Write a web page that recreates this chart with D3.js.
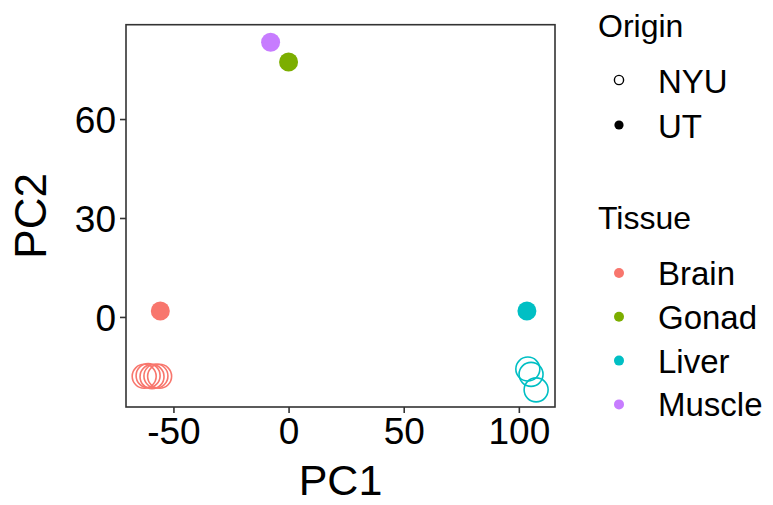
<!DOCTYPE html>
<html>
<head>
<meta charset="utf-8">
<script src="https://cdn.jsdelivr.net/npm/d3@7"></script>
<style>
    body { margin: 0; background: #ffffff; }
    text { font-family: 'Liberation Sans', Arial, sans-serif; fill: #000000; }
</style>
</head>
<body>
<div id="chart"></div>
<script>
'use strict';

// PCA scores
var tissues = ['Brain', 'Gonad', 'Liver', 'Muscle'];
var tissueColors = ['#F8766D', '#7CAE00', '#00BFC4', '#C77CFF'];
var origins = ['NYU', 'UT'];

var sampleTissue = ['Brain', 'Brain', 'Brain', 'Brain', 'Brain', 'Brain',
    'Gonad', 'Liver', 'Liver', 'Liver', 'Liver', 'Muscle'];
var sampleOrigin = ['UT', 'NYU', 'NYU', 'NYU', 'NYU', 'NYU',
    'UT', 'UT', 'NYU', 'NYU', 'NYU', 'UT'];
var pc1 = [-55.7, -62.7, -61.0, -59.3, -57.6, -56.0,
    0.0, 103.5, 103.9, 105.3, 107.5, -7.8];
var pc2 = [1.8, -18.0, -17.8, -18.1, -17.9, -18.0,
    77.3, 1.8, -15.8, -17.4, -22.1, 83.3];

var xTicks = [-50, 0, 50, 100];
var yTicks = [0, 30, 60];

var width = 773,
    height = 505;

var panel = { left: 126, right: 555, top: 24.7, bottom: 407 };

var svg = d3.select('#chart').append('svg')
    .attr('width', width)
    .attr('height', height);

var x = d3.scaleLinear()
    .domain([-70.6, 115.7])
    .range([panel.left, panel.right]);

var y = d3.scaleLinear()
    .domain([-27.3, 88.6])
    .range([panel.bottom, panel.top]);

var color = d3.scaleOrdinal()
    .domain(tissues)
    .range(tissueColors);

var samples = pc1.map(function(d, i) {
    return { pc1: d, pc2: pc2[i], tissue: sampleTissue[i], origin: sampleOrigin[i] };
});

// plain hyphen minus like the R output
var tickFormat = function(d) { return String(d); };

// axes
var xAxis = svg.append('g')
    .attr('transform', 'translate(0,' + panel.bottom + ')')
    .call(d3.axisBottom(x).tickValues(xTicks).tickSize(6).tickPadding(4).tickFormat(tickFormat));

var yAxis = svg.append('g')
    .attr('transform', 'translate(' + panel.left + ',0)')
    .call(d3.axisLeft(y).tickValues(yTicks).tickSize(6).tickPadding(4).tickFormat(tickFormat));

[xAxis, yAxis].forEach(function(axis) {
    axis.select('.domain').remove();
    axis.selectAll('line').attr('stroke', '#333333').attr('stroke-width', 1.6);
    axis.selectAll('text')
        .attr('fill', '#000000')
        .attr('font-size', '37px')
        .style('font-family', "'Liberation Sans', Arial, sans-serif");
});
xAxis.selectAll('text').attr('dy', '0.74em');
yAxis.selectAll('text').attr('dy', '0.36em');

// points: UT filled (pch 16), NYU open (pch 1, drawn a bit larger)
svg.append('g')
    .selectAll('circle')
    .data(samples)
    .enter().append('circle')
        .attr('cx', function(d) { return x(d.pc1); })
        .attr('cy', function(d) { return y(d.pc2); })
        .attr('r', function(d) { return d.origin === 'UT' ? 9.5 : 12; })
        .attr('fill', function(d) { return d.origin === 'UT' ? color(d.tissue) : 'none'; })
        .attr('stroke', function(d) { return d.origin === 'UT' ? 'none' : color(d.tissue); })
        .attr('stroke-width', 1.6);

// panel border
svg.append('rect')
    .attr('x', panel.left)
    .attr('y', panel.top)
    .attr('width', panel.right - panel.left)
    .attr('height', panel.bottom - panel.top)
    .attr('fill', 'none')
    .attr('stroke', '#333333')
    .attr('stroke-width', 1.6);

// axis titles
svg.append('text')
    .attr('x', (panel.left + panel.right) / 2)
    .attr('y', 495)
    .attr('text-anchor', 'middle')
    .attr('font-size', '43px')
    .text('PC1');

svg.append('text')
    .attr('transform', 'translate(46,' + ((panel.top + panel.bottom) / 2) + ') rotate(-90)')
    .attr('text-anchor', 'middle')
    .attr('font-size', '44px')
    .text('PC2');

// legends
var legend = svg.append('g');

legend.append('text')
    .attr('x', 598)
    .attr('y', 37)
    .attr('font-size', '32px')
    .text('Origin');

var originRows = legend.selectAll('.origin-row')
    .data(origins)
    .enter().append('g')
        .attr('class', 'origin-row')
        .attr('transform', function(d, i) { return 'translate(0,' + (80 + i * 45) + ')'; });

originRows.append('circle')
    .attr('cx', 619)
    .attr('cy', 0)
    .attr('r', 4.6)
    .attr('fill', function(d) { return d === 'UT' ? '#000000' : 'none'; })
    .attr('stroke', function(d) { return d === 'UT' ? 'none' : '#000000'; })
    .attr('stroke-width', 1.4);

originRows.append('text')
    .attr('x', 658)
    .attr('y', 13)
    .attr('font-size', '33px')
    .text(function(d) { return d; });

legend.append('text')
    .attr('x', 598)
    .attr('y', 229)
    .attr('font-size', '32px')
    .text('Tissue');

var tissueRows = legend.selectAll('.tissue-row')
    .data(tissues)
    .enter().append('g')
        .attr('class', 'tissue-row')
        .attr('transform', function(d, i) { return 'translate(0,' + (273 + i * 43.8) + ')'; });

tissueRows.append('circle')
    .attr('cx', 619)
    .attr('cy', 0)
    .attr('r', 5)
    .attr('fill', function(d) { return color(d); });

tissueRows.append('text')
    .attr('x', 658)
    .attr('y', 12)
    .attr('font-size', '33px')
    .text(function(d) { return d; });
</script>
</body>
</html>
